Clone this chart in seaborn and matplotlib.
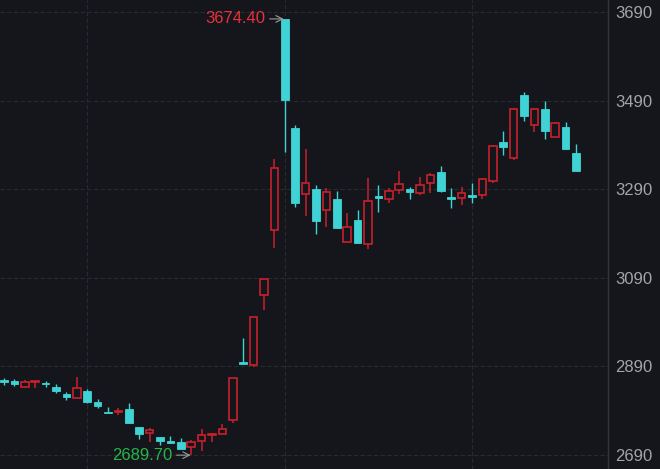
import matplotlib
matplotlib.use("Agg")
import numpy as np
import pandas as pd
import seaborn as sns
import matplotlib.pyplot as plt

# ---- data ----
open_ = [2859.3, 2857.1, 2843.5, 2854.8, 2852.5, 2843.5, 2827.7, 2818.7, 2834.5, 2809.6,
         2787.0, 2787.0, 2793.8, 2753.2, 2739.7, 2730.6, 2721.6, 2719.4, 2708.1, 2721.6,
         2735.1, 2737.4, 2769.0, 2899.9, 2893.2, 3051.2, 3197.9, 3674.4, 3428.2, 3279.2,
         3290.5, 3243.0, 3267.9, 3170.8, 3220.5, 3166.3, 3274.7, 3267.9, 3288.2, 3290.5,
         3281.4, 3304.0, 3328.8, 3272.4, 3270.1, 3276.9, 3276.9, 3308.5, 3396.6, 3360.4,
         3502.7, 3434.9, 3471.0, 3407.9, 3430.4, 3371.7]
high = [2863.8, 2861.6, 2859.3, 2857.5, 2857.1, 2850.3, 2832.2, 2866.1, 2839.0, 2816.4,
        2798.3, 2796.1, 2807.4, 2753.2, 2750.9, 2730.6, 2732.9, 2728.4, 2723.9, 2748.7,
        2739.7, 2760.0, 2863.8, 2954.1, 3001.5, 3087.3, 3358.2, 3674.4, 3434.9, 3380.8,
        3299.5, 3292.7, 3286.0, 3236.3, 3243.0, 3315.3, 3299.5, 3292.7, 3331.1, 3295.0,
        3317.5, 3326.6, 3342.4, 3292.7, 3295.0, 3304.0, 3315.3, 3389.8, 3421.4, 3473.3,
        3509.4, 3473.3, 3489.1, 3441.7, 3441.7, 3392.1]
low = [2848.0, 2845.8, 2841.3, 2841.3, 2843.5, 2830.0, 2814.2, 2818.7, 2807.4, 2796.1,
       2784.8, 2780.3, 2762.2, 2726.1, 2719.4, 2712.6, 2717.1, 2703.6, 2689.7, 2699.0,
       2719.4, 2737.4, 2762.2, 2895.4, 2888.7, 3017.3, 3157.3, 3374.0, 3249.8, 3229.5,
       3188.9, 3204.7, 3202.4, 3170.8, 3168.6, 3155.0, 3238.5, 3258.8, 3279.2, 3267.9,
       3276.9, 3281.4, 3283.7, 3247.5, 3254.3, 3258.8, 3267.9, 3304.0, 3367.2, 3355.9,
       3443.9, 3419.1, 3403.3, 3407.9, 3380.8, 3331.1]
close = [2854.8, 2850.3, 2854.8, 2857.1, 2850.3, 2834.5, 2820.9, 2841.3, 2809.6, 2800.6,
         2784.8, 2789.3, 2762.2, 2737.4, 2746.4, 2721.6, 2717.1, 2703.6, 2719.4, 2735.1,
         2737.4, 2748.7, 2863.8, 2895.4, 3001.5, 3087.3, 3337.9, 3491.4, 3258.8, 3304.0,
         3218.2, 3283.7, 3202.4, 3204.7, 3168.6, 3263.4, 3270.1, 3286.0, 3301.7, 3283.7,
         3299.5, 3322.1, 3286.0, 3267.9, 3281.4, 3272.4, 3313.0, 3387.5, 3385.3, 3471.0,
         3455.2, 3471.0, 3421.4, 3439.4, 3380.8, 3331.1]
y_ticks = [2690, 2890, 3090, 3290, 3490, 3690]
period_marks = [8, 27, 45]   # vertical grid (period boundaries)

BG = "#14161b"
RED = "#c9202c"
CYAN = "#3fd3d6"
GRID = "#272a30"
TXT = "#a3a5a8"

sns.set_theme(style="dark", rc={
    "axes.facecolor": BG, "figure.facecolor": BG,
    "axes.edgecolor": "#3a3d43", "grid.color": GRID,
})
plt.rcParams["font.family"] = ["Liberation Sans", "DejaVu Sans"]

df = pd.DataFrame({"open": open_, "high": high, "low": low, "close": close})
df["idx"] = np.arange(len(df))
df["up"] = df["close"] >= df["open"]

fig = plt.figure(figsize=(6.6, 4.69), dpi=100)
ax = fig.add_axes([0, 0, 608 / 660, 1])

# wicks
for up, sub in df.groupby("up"):
    ax.vlines(sub["idx"], sub["low"], sub["high"], color=RED if up else CYAN,
              linewidth=1.1 if up else 1.0, zorder=2)

# bodies
bottom = np.minimum(df["open"], df["close"])
height = np.maximum(np.abs(df["close"] - df["open"]), 1.8)
up = df["up"].values
ax.bar(df["idx"][up], height[up], bottom=bottom[up], width=0.74,
       facecolor=BG, edgecolor=RED, linewidth=1.2, zorder=3)
ax.bar(df["idx"][~up], height[~up], bottom=bottom[~up], width=0.74,
       facecolor=CYAN, edgecolor=CYAN, linewidth=0.6, zorder=3)

ax.set_xlim(-0.385, 58.08)
ax.set_ylim(2658.4, 3717.1)
ax.set_yticks(y_ticks)
ax.set_yticklabels([str(t) for t in y_ticks])
ax.yaxis.tick_right()
ax.tick_params(axis="y", colors=TXT, labelsize=12, length=3, width=0.8, pad=2,
               direction="out", right=True, left=False, labelcolor=TXT)
ax.set_xticks(period_marks)
ax.set_xticklabels([])
ax.tick_params(axis="x", length=0)
ax.grid(True, color=GRID, linestyle=(0, (4, 2)), linewidth=0.8, zorder=0)
ax.set_axisbelow(True)
sns.despine(ax=ax, left=True, top=True, bottom=True, right=False)
ax.spines["right"].set_color("#33363c")
ax.spines["right"].set_linewidth(1.0)

# extremes
i_max = int(np.argmax(df["high"]))
i_min = int(np.argmin(df["low"]))
ax.annotate(f"{df['high'][i_max]:.2f}", xy=(i_max - 0.1, df["high"][i_max]),
            xytext=(i_max - 1.9, df["high"][i_max]), ha="right", va="center",
            color="#e8313d", fontsize=12,
            arrowprops=dict(arrowstyle="->", color="#9c9c9c", lw=0.8,
                            shrinkA=1, shrinkB=0))
ax.annotate(f"{df['low'][i_min]:.2f}", xy=(i_min - 0.05, df["low"][i_min]),
            xytext=(i_min - 1.85, df["low"][i_min]), ha="right", va="center",
            color="#27b548", fontsize=12,
            arrowprops=dict(arrowstyle="->", color="#9c9c9c", lw=0.8,
                            shrinkA=1, shrinkB=0))

fig.savefig("out.png", dpi=100, facecolor=BG)
